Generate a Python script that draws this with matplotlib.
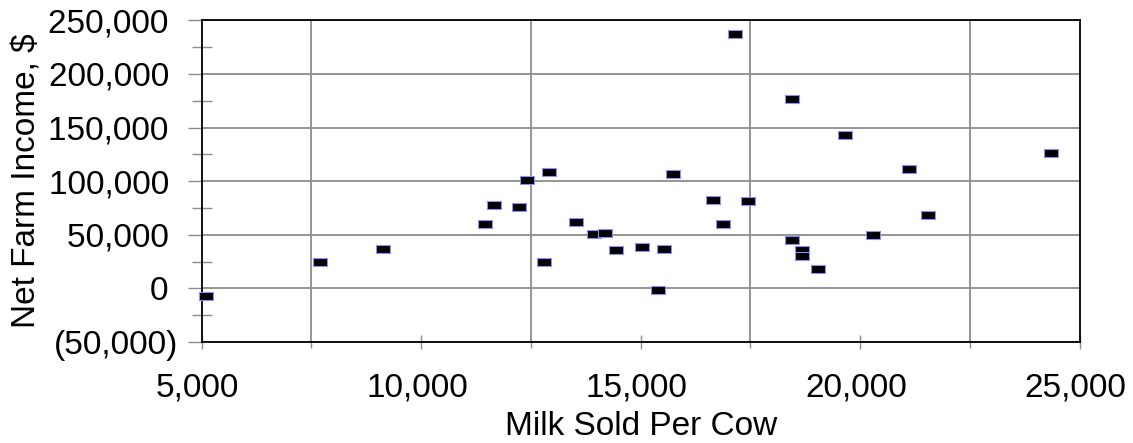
import matplotlib
matplotlib.use("Agg")
import matplotlib.pyplot as plt
from matplotlib.ticker import FixedLocator, FuncFormatter, NullFormatter
from matplotlib.transforms import ScaledTranslation

plt.rcParams['font.family'] = ['Liberation Sans', 'DejaVu Sans']

milk = [5100, 7700, 9130, 11460, 11650, 12220, 12400, 12910, 12800, 13530,
        13940, 14180, 14440, 15040, 15540, 15400, 15730, 17140, 16650, 17440,
        16880, 18450, 19660, 24350, 21100, 21550, 20290, 18450, 18670, 18670,
        19030]
income = [-7000, 24600, 36700, 60000, 78000, 76000, 101000, 108700, 24600, 62000,
          50300, 52000, 35800, 38200, 36300, -1500, 107000, 237000, 82600, 81400,
          60300, 177000, 143000, 126000, 111800, 68000, 50000, 45400, 36000, 29800,
          18000]

x_major = [5000, 10000, 15000, 20000, 25000]
x_grid = [7500, 12500, 17500, 22500]
y_major = [-50000, 0, 50000, 100000, 150000, 200000, 250000]
y_minor = [-25000, 25000, 75000, 125000, 175000, 225000]

FS = 24

fig = plt.figure(figsize=(11.33, 4.43), dpi=100)
ax = fig.add_axes([0.178, 0.228, 0.775, 0.726])

rect = [(-1, -0.55), (1, -0.55), (1, 0.55), (-1, 0.55), (-1, -0.55)]
ax.plot(milk, income, linestyle='none', marker=rect, markersize=9.6,
        markerfacecolor='black', markeredgecolor='#8f8fff', markeredgewidth=0.8,
        zorder=5, clip_on=False)

ax.set_xlim(5000, 25000)
ax.set_ylim(-50000, 250000)

ax.xaxis.set_major_locator(FixedLocator(x_major))
ax.xaxis.set_minor_locator(FixedLocator(x_grid))
ax.xaxis.set_major_formatter(FuncFormatter(lambda v, p: f"{int(v):,}"))
ax.xaxis.set_minor_formatter(NullFormatter())

def yfmt(v, p):
    v = int(round(v))
    if v < 0:
        return f"({-v:,})"
    return f"{v:,}\u2008"

ax.yaxis.set_major_locator(FixedLocator(y_major))
ax.yaxis.set_minor_locator(FixedLocator(y_minor))
ax.yaxis.set_major_formatter(FuncFormatter(yfmt))
ax.yaxis.set_minor_formatter(NullFormatter())

ax.grid(True, which='minor', axis='x', color='#8c8c8c', linewidth=1.3)
ax.grid(True, which='major', axis='y', color='#8c8c8c', linewidth=1.3)
ax.set_axisbelow(True)

ax.tick_params(axis='x', which='major', direction='inout', length=10, width=1,
               color='#8c8c8c', labelsize=FS, pad=17.2)
ax.tick_params(axis='x', which='minor', direction='out', length=4, width=1,
               color='#8c8c8c')
ax.tick_params(axis='y', which='major', direction='out', length=10, width=1,
               color='#8c8c8c', labelsize=FS, pad=7)
ax.tick_params(axis='y', which='minor', direction='inout', length=14, width=1,
               color='#8c8c8c')

for s in ax.spines.values():
    s.set_color('black')
    s.set_linewidth(1.3)

ax.set_xlabel('Milk Sold Per Cow', fontsize=FS, labelpad=5.2)
ax.set_ylabel('Net Farm Income, $', fontsize=FS, labelpad=4)

fig.canvas.draw()
shift = ScaledTranslation(-4 / 100, 0, fig.dpi_scale_trans)
for lbl in ax.get_xticklabels():
    lbl.set_transform(lbl.get_transform() + shift)

fig.savefig('out.png', dpi=100)
